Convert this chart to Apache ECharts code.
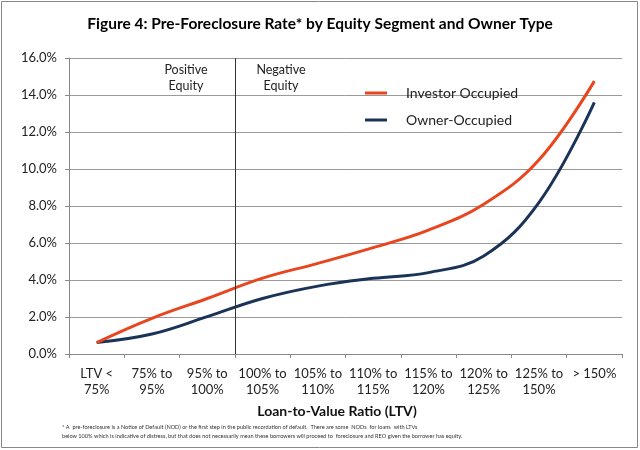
<!DOCTYPE html>
<html>
<head>
<meta charset="utf-8">
<script src="https://cdn.jsdelivr.net/npm/echarts@6/dist/echarts.min.js"></script>
<style>html,body{margin:0;padding:0;background:#fff}#c{width:640px;height:450px}</style>
</head>
<body>
<div id="c"></div>
<script>
const categories = ['LTV <\n75%', '75% to\n95%', '95% to\n100%', '100% to\n105%', '105% to\n110%', '110% to\n115%', '115% to\n120%', '120% to\n125%', '125% to\n150%', '> 150%'];
const investorOccupied = [0.62, 1.93, 3.0, 4.1, 4.9, 5.75, 6.7, 8.1, 10.5, 14.75];
const ownerOccupied = [0.62, 1.08, 2.02, 3.0, 3.67, 4.09, 4.4, 5.3, 8.2, 13.6];
const yTicks = [0, 2, 4, 6, 8, 10, 12, 14, 16];
const equityBoundary = 3; // boundary between "95% to 100%" and "100% to 105%"

const FONT = 'Lato';
const chart = echarts.init(document.getElementById('c'));
chart.setOption({
  animation: false,
  backgroundColor: '#fff',
  textStyle: { fontFamily: FONT },
  title: {
    text: 'Figure 4: Pre-Foreclosure Rate* by Equity Segment and Owner Type',
    left: 'center', top: 11,
    textStyle: { fontFamily: FONT, fontSize: 15.5, fontWeight: 'bold', color: '#000' }
  },
  legend: {
    orient: 'vertical', left: 360, top: 81, itemGap: 13,
    icon: 'rect', itemWidth: 22, itemHeight: 3,
    textStyle: { fontFamily: FONT, fontSize: 14, color: '#222', padding: [0, 0, 0, 14] },
    data: ['Investor Occupied', 'Owner-Occupied']
  },
  grid: { left: 69, right: 18, top: 58, bottom: 96 },
  xAxis: [{
    type: 'category', data: categories, boundaryGap: true,
    axisLine: { lineStyle: { color: '#888' } },
    axisTick: { show: true, length: 4, lineStyle: { color: '#888' } },
    axisLabel: { fontFamily: FONT, fontSize: 13, color: '#222', lineHeight: 16, margin: 12, interval: 0 },
    splitLine: { show: false }
  }, {
    type: 'value', min: 0, max: categories.length, show: false
  }],
  yAxis: {
    type: 'value', min: 0, max: 16, interval: 2,
    axisLine: { show: true, lineStyle: { color: '#888' } },
    axisTick: { show: true, length: 4, lineStyle: { color: '#888' } },
    axisLabel: { fontFamily: FONT, fontSize: 13, color: '#222', margin: 12,
      formatter: function (v) { return yTicks.indexOf(v) >= 0 ? v.toFixed(1) + '%' : ''; } },
    splitLine: { show: true, lineStyle: { color: '#999', width: 1 } }
  },
  series: [
    { name: 'Investor Occupied', type: 'line', data: investorOccupied, smooth: 0.4, symbol: 'none',
      lineStyle: { color: '#E8461E', width: 3 }, itemStyle: { color: '#E8461E' }, z: 3 },
    { name: 'Owner-Occupied', type: 'line', data: ownerOccupied, smooth: 0.4, symbol: 'none',
      lineStyle: { color: '#1A3356', width: 3 }, itemStyle: { color: '#1A3356' }, z: 2 },
    { name: 'boundary', type: 'line', xAxisIndex: 1, data: [], symbol: 'none', silent: true,
      markLine: { silent: true, symbol: 'none', label: { show: false },
        lineStyle: { color: '#333', width: 1, type: 'solid' },
        data: [{ xAxis: equityBoundary }] } }
  ],
  graphic: [
    { type: 'rect', shape: { x: 1.5, y: 1.5, width: 636, height: 446 }, style: { fill: 'none', stroke: '#888', lineWidth: 1 }, z: -1 },
    { type: 'text', x: 186, y: 62, style: { text: 'Positive\nEquity', fontFamily: FONT, fontSize: 12.5, fill: '#222', align: 'center', lineHeight: 16 } },
    { type: 'text', x: 281, y: 62, style: { text: 'Negative\nEquity', fontFamily: FONT, fontSize: 12.5, fill: '#222', align: 'center', lineHeight: 16 } },
    { type: 'text', x: 337, y: 404, style: { text: 'Loan-to-Value Ratio (LTV)', fontFamily: FONT, fontSize: 14, fontWeight: 'bold', fill: '#111', align: 'center' } },
    { type: 'text', x: 62, y: 423, style: { text: '* A  pre-foreclosure is a Notice of Default (NOD) or the first step in the public recordation of default.  There are some  NODs  for loans  with LTVs\nbelow 100% which is indicative of distress, but that does not necessarily mean these borrowers will proceed to  foreclosure and REO given the borrower has equity.', fontFamily: FONT, fontSize: 5.6, fill: '#333', lineHeight: 9 } }
  ]
});
</script>
</body>
</html>
